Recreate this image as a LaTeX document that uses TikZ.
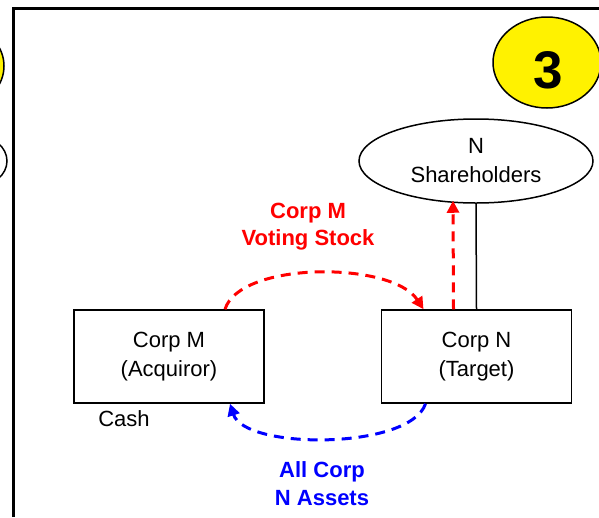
\documentclass[tikz,border=0pt]{standalone}
\usepackage{fontspec}
\setmainfont{Liberation Sans}
\usetikzlibrary{arrows.meta,calc,shapes.geometric}
\begin{document}
\begin{tikzpicture}[x=1pt,y=-1pt,
  boxnode/.style={draw=black,line width=1.5pt,minimum width=190pt,minimum height=93pt,inner sep=0pt,align=center,font=\fontsize{22}{29}\selectfont},
  ovalnode/.style={draw=black,line width=1.5pt,ellipse,minimum width=234pt,minimum height=84pt,inner sep=0pt,align=center,font=\fontsize{22}{29}\selectfont},
  flowarrow/.style={line width=3pt,dash pattern=on 10pt off 7pt,-{Triangle[length=12pt,width=12pt]}},
  redlabel/.style={text=red,font=\bfseries\fontsize{22}{27}\selectfont,align=center},
  bluelabel/.style={text=blue,font=\bfseries\fontsize{22}{28}\selectfont,align=center},
  frameline/.style={line width=3pt,black}
]
\useasboundingbox (0,0) rectangle (599,517);
% partial shapes at left edge
\draw[line width=1.5pt,fill=yellow] (-28,66) ellipse [x radius=32, y radius=35];
\draw[line width=1.5pt,fill=white] (-23,161) ellipse [x radius=30, y radius=25];
% frame
\draw[frameline] (13,517) -- (13,8) -- (600,8);
% badge
\node[draw=black,line width=1.5pt,fill=yellow,ellipse,minimum width=108pt,minimum height=91pt,inner sep=0pt] (badge) at (547,62.5) {};
\node[font=\bfseries\fontsize{53}{53}\selectfont] (three) at (548,70) {3};
% nodes
\node[ovalnode] (S) at (476,161) {N\\Shareholders};
\node[boxnode] (M) at (169,356.5) {Corp M\\(Acquiror)};
\node[boxnode] (N) at (476.5,356.5) {Corp N\\(Target)};
\node[font=\fontsize{22}{29}\selectfont] (cash) at (124,419) {Cash};
% connectors
\draw[line width=1.5pt] (S.south) -- (N.north);
\draw[flowarrow,red] ([xshift=-23pt]N.north) -- ([xshift=-23pt,yshift=3pt]S.south);
\draw[flowarrow,red] ([xshift=56pt]M.north) .. controls (240,261) and (392,261) .. ([xshift=-53pt]N.north);
\draw[flowarrow,blue] ([xshift=-51pt]N.south) .. controls (410,450) and (245,450) .. ([xshift=61pt]M.south);
% labels
\node[redlabel] (redtxt) at (308,227) {Corp M\\Voting Stock};
\node[bluelabel] (bluetxt) at (322,484) {All Corp\\N Assets};
\end{tikzpicture}
\end{document}
